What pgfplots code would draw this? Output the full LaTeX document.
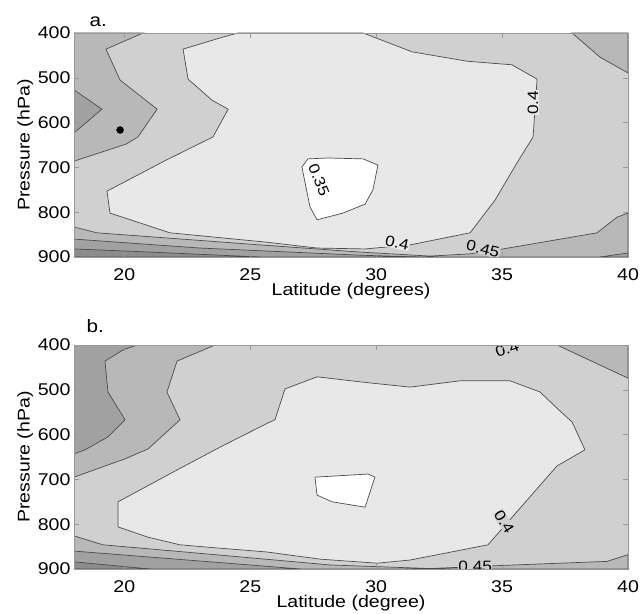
\documentclass[border=0pt]{standalone}
\usepackage{pgfplots}
\pgfplotsset{compat=1.18}
\usepackage{fontspec}
\setmainfont{Liberation Sans}[FakeStretch=1.15]
\definecolor{C1}{gray}{0.91}
\definecolor{C2}{gray}{0.815}
\definecolor{C3}{gray}{0.72}
\definecolor{C4}{gray}{0.63}
\definecolor{C5}{gray}{0.55}
\definecolor{cl}{gray}{0.30}
\tikzset{clab/.style={font=\fontsize{15bp}{15bp}\selectfont, inner sep=0.5bp}}
\pgfplotsset{
  panel/.style={
    scale only axis, width=554bp, height=224bp,
    xmin=18, xmax=40, ymin=400, ymax=900, y dir=reverse,
    xtick={20,25,30,35,40}, ytick={400,500,600,700,800,900},
    axis on top=true,
    axis line style={draw=gray!80},
    every tick/.style={gray!80, line width=0.5bp},
    major tick length=5bp,
    tick label style={font=\fontsize{17bp}{19bp}\selectfont},
    xticklabel style={yshift=-8bp},
    label style={font=\fontsize{17bp}{19bp}\selectfont},
    /pgf/number format/assume math mode=true,
    ylabel={Pressure (hPa)},
    xlabel style={yshift=4bp},
    ylabel style={yshift=-2bp},
  },
  reg/.style={draw=cl, line width=0.7bp},
}
\begin{document}
\begin{tikzpicture}
% ---------------- panel a ----------------
\begin{axis}[panel, at={(74bp,357bp)}, anchor=south west, xlabel={Latitude (degrees)}]
\addplot[fill=C2, draw=none] coordinates {(18,400) (40,400) (40,900) (18,900)} -- cycle;
% 0.35-0.4 region
\addplot[reg, fill=C1] coordinates {(24.51,400) (23.92,409) (22.33,436) (22.53,503) (23.48,550) (24.12,570) (23.52,632) (21.65,684) (19.31,753) (19.43,802) (21.81,846) (25.66,867) (27.65,880) (29.56,882) (31.34,873) (33.73,846) (34.72,773) (35.59,690) (36.23,632) (36.39,503) (35.39,471) (33.61,463) (31.42,442) (29.48,400)} -- cycle;
% <0.35 region
\addplot[reg, fill=white] coordinates {(27.05,699) (27.29,681) (28.09,679) (29.48,681) (30.07,695) (29.87,750) (29.56,782) (28.68,802) (27.65,817) (27.37,788)} -- cycle;
% top-left 0.45
\addplot[reg, fill=C3] coordinates {(18,400) (20.74,400) (19.27,436) (19.83,505) (21.30,570) (20.54,632) (20.07,648) (18,686)} -- cycle;
\addplot[reg, fill=C4] coordinates {(18,527) (19.11,570) (18,623)} -- cycle;
% top-right 0.45
\addplot[reg, fill=C3] coordinates {(37.78,400) (38.89,454) (40,489) (40,400)} -- cycle;
% bottom bands
\addplot[reg, fill=C3] coordinates {(18,833) (18.91,846) (25.39,873) (29.36,889) (32.14,898) (33.73,893) (35.04,882) (38.77,846) (39.57,811) (40,802) (40,900) (18,900)} -- cycle;
\addplot[reg, fill=C4] coordinates {(18,860) (23.00,880) (29.36,896) (31.74,900) (18,900)} -- cycle;
\addplot[reg, fill=C4] coordinates {(38.89,900) (40,891) (40,900)} -- cycle;
\addplot[reg, fill=C5] coordinates {(18,882) (21.02,889) (25.39,900) (18,900)} -- cycle;
% marker
\addplot[only marks, mark=*, mark size=3.5bp, black] coordinates {(19.83,616.5)};
% labels
\node[clab, rotate=-68, fill=white] at (axis cs:27.73,728) {0.35};
\node[clab, rotate=90, fill=C1] at (axis cs:36.23,556) {0.4};
\node[clab, rotate=-12, fill=C1] at (axis cs:30.83,869) {0.4};
\node[clab, rotate=-14, fill=C2] at (axis cs:34.24,882) {0.45};
\end{axis}
\node[anchor=base west, font=\fontsize{18bp}{20bp}\selectfont] at (86bp,587bp) {a.};
% ---------------- panel b ----------------
\begin{axis}[panel, at={(74bp,45bp)}, anchor=south west, xlabel={Latitude (degree)}]
\addplot[fill=C2, draw=none] coordinates {(18,400) (40,400) (40,900) (18,900)} -- cycle;
\addplot[reg, fill=C3] coordinates {(18,400) (23.60,400) (22.09,436) (21.69,505) (22.21,567) (20.94,632) (20.03,654) (18,695)} -- cycle;
\addplot[reg, fill=C4] coordinates {(18,400) (20.50,400) (19.95,411) (19.23,436) (19.35,505) (20.03,567) (19.35,605) (18.44,634) (18,643)} -- cycle;
\addplot[reg, fill=C1] coordinates {(27.65,471) (29.48,483) (31.34,494) (33.33,480) (35.32,480) (36.51,505) (37.18,541) (37.78,572) (38.29,634) (37.18,670) (34.44,846) (31.34,880) (30.03,887) (27.77,878) (25.66,862) (23.68,853) (22.21,846) (20.94,829) (19.75,806) (19.75,750) (22.09,679) (23.80,628) (25.70,574) (25.98,567) (26.38,498)} -- cycle;
\addplot[reg, fill=white] coordinates {(27.57,695) (29.68,688) (29.95,695) (29.56,762) (28.25,750) (27.65,735)} -- cycle;
\addplot[reg, fill=C3] coordinates {(37.18,400) (40,474) (40,400)} -- cycle;
\addplot[reg, fill=C3] coordinates {(18,826) (19.15,846) (23.80,869) (28.17,891) (32.14,899) (35.04,892) (39.17,883) (40,868) (40,900) (18,900)} -- cycle;
\addplot[reg, fill=C4] coordinates {(18,860) (24.99,891) (26.98,900) (18,900)} -- cycle;
\addplot[reg, fill=C5] coordinates {(18,884) (21.02,900) (18,900)} -- cycle;
\node[clab, rotate=-58, fill=C2] at (axis cs:35.08,795) {0.4};
\node[clab, fill=C2] at (axis cs:33.93,893) {0.45};
\node[clab, rotate=20, fill=C2] at (axis cs:35.2,409) {0.4};
\end{axis}
\node[anchor=base west, font=\fontsize{18bp}{20bp}\selectfont] at (83bp,281bp) {b.};
\pgfresetboundingbox
\useasboundingbox (0,0) rectangle (640bp,614bp);
\end{tikzpicture}
\end{document}
